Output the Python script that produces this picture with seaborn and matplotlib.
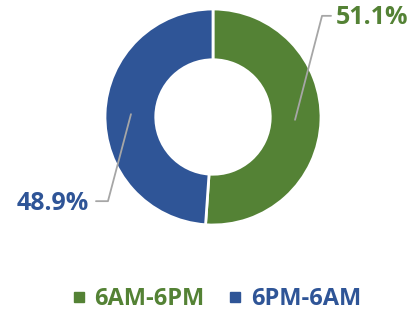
import numpy as np
import seaborn as sns
import matplotlib.pyplot as plt
from matplotlib.lines import Line2D

sns.set_theme(style="white")
plt.rcParams['font.family'] = ['Open Sans', 'DejaVu Sans']

# data
shifts = ['6AM-6PM', '6PM-6AM']
shares = [51.1, 48.9]
colors = ['#548235', '#2F5597']

fig = plt.figure(figsize=(4.14, 3.15), dpi=100)
ax = fig.add_axes([0, 0, 1, 1])

cx, cy, r = 213, 198, 108
wedges, _ = ax.pie(shares, colors=colors, startangle=90, counterclock=False,
                   center=(cx, cy), radius=r, frame=True,
                   wedgeprops=dict(width=r * 0.47, edgecolor='white', linewidth=2))
ax.set_xlim(0, 414)
ax.set_ylim(0, 315)
ax.set_aspect('equal')
ax.axis('off')

# leader lines + labels
elbow = [(27, 104), (-23, -87)]
tail = [9, -12]
for w, val, col, (ex, ey), t in zip(wedges, shares, colors, elbow, tail):
    ang = np.deg2rad((w.theta1 + w.theta2) / 2)
    px, py = cx + 0.76 * r * np.cos(ang), cy + 0.76 * r * np.sin(ang)
    bx, by = px + ex, py + ey
    ax.plot([px, bx, bx + t], [py, by, by], color='#A6A6A6', lw=1.3)
    ax.text(bx + t + (5 if t > 0 else -7), by - 2, f'{val}%',
            ha='left' if t > 0 else 'right', va='center',
            color=col, fontsize=18, fontweight='bold')

handles = [Line2D([], [], marker='s', ls='', color=c, markersize=7) for c in colors]
leg = fig.legend(handles, shifts, loc='center', bbox_to_anchor=(0.52, 0.05),
                 ncol=2, frameon=False, fontsize=17, handletextpad=0.25,
                 columnspacing=0.9, handlelength=0.8)
for txt, c in zip(leg.get_texts(), colors):
    txt.set_color(c)
    txt.set_fontweight('bold')

fig.savefig('out.png', dpi=100)
